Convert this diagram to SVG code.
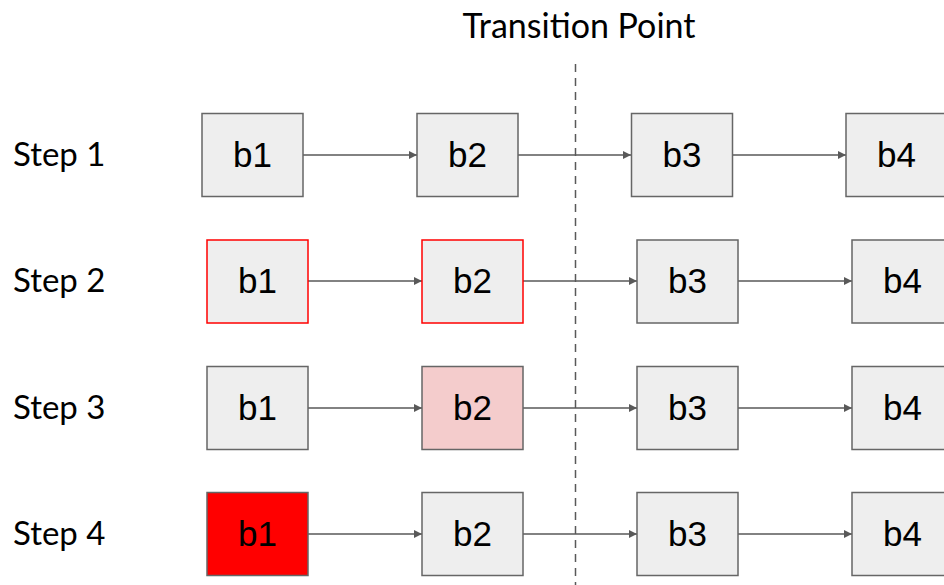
<svg xmlns="http://www.w3.org/2000/svg" width="944" height="585" viewBox="0 0 944 585">
  <defs>
    <style>
      .box { fill: #eeeeee; stroke: #666666; stroke-width: 1.5; }
      .hot { stroke: #ff0000; }
      .step { font-family: Lato, 'Open Sans', sans-serif; font-size: 33px; fill: #000000; }
      .title { font-family: Lato, 'Open Sans', sans-serif; font-size: 34px; fill: #000000; text-anchor: middle; }
      .edge { stroke: #595959; stroke-width: 1.5; fill: none; marker-end: url(#arrow); }
    </style>
    <marker id="arrow" viewBox="0 0 10 10" refX="10" refY="5" markerWidth="9" markerHeight="8" markerUnits="userSpaceOnUse" orient="auto">
      <path d="M0,0 L10,5 L0,10 Z" fill="#595959"/>
    </marker>
  </defs>
  <rect width="944" height="585" fill="#ffffff"/>

  <!-- title and transition marker -->
  <text x="579" y="38" class="title">Transition Point</text>
  <line x1="575.5" y1="64" x2="575.5" y2="585" stroke="#595959" stroke-width="1.5" stroke-dasharray="8,6"/>

  <!-- row labels -->
  <text x="13" y="166" class="step">Step 1</text>
  <text x="13" y="292" class="step">Step 2</text>
  <text x="13" y="419" class="step">Step 3</text>
  <text x="13" y="545" class="step">Step 4</text>

  <!-- connectors -->
  <g id="connectors">
    <line class="edge" x1="303" y1="155" x2="417" y2="155"/>
    <line class="edge" x1="518" y1="155" x2="631" y2="155"/>
    <line class="edge" x1="733" y1="155" x2="846" y2="155"/>

    <line class="edge" x1="308" y1="281" x2="422" y2="281"/>
    <line class="edge" x1="523" y1="281" x2="637" y2="281"/>
    <line class="edge" x1="738" y1="281" x2="852" y2="281"/>

    <line class="edge" x1="308" y1="408" x2="422" y2="408"/>
    <line class="edge" x1="523" y1="408" x2="637" y2="408"/>
    <line class="edge" x1="738" y1="408" x2="852" y2="408"/>

    <line class="edge" x1="308" y1="534" x2="422" y2="534"/>
    <line class="edge" x1="523" y1="534" x2="637" y2="534"/>
    <line class="edge" x1="738" y1="534" x2="852" y2="534"/>
  </g>

  <!-- block nodes -->
  <g font-family="Liberation Sans, Arial, sans-serif" font-size="35" fill="#000000" text-anchor="middle">
    <!-- Step 1 -->
    <g id="s1-b1"><rect class="box" x="202" y="113.5" width="101" height="83"/><text x="252.5" y="167">b1</text></g>
    <g id="s1-b2"><rect class="box" x="417" y="113.5" width="101" height="83"/><text x="467.5" y="167">b2</text></g>
    <g id="s1-b3"><rect class="box" x="631.5" y="113.5" width="101" height="83"/><text x="682" y="167">b3</text></g>
    <g id="s1-b4"><rect class="box" x="846" y="113.5" width="101" height="83"/><text x="896.5" y="167">b4</text></g>

    <!-- Step 2 -->
    <g id="s2-b1"><rect class="box hot" x="207" y="240" width="101" height="83"/><text x="257.5" y="293">b1</text></g>
    <g id="s2-b2"><rect class="box hot" x="422" y="240" width="101" height="83"/><text x="472.5" y="293">b2</text></g>
    <g id="s2-b3"><rect class="box" x="637" y="240" width="101" height="83"/><text x="687.5" y="293">b3</text></g>
    <g id="s2-b4"><rect class="box" x="852" y="240" width="101" height="83"/><text x="902.5" y="293">b4</text></g>

    <!-- Step 3 -->
    <g id="s3-b1"><rect class="box" x="207" y="366.5" width="101" height="83"/><text x="257.5" y="420">b1</text></g>
    <g id="s3-b2"><rect class="box" x="422" y="366.5" width="101" height="83" style="fill:#f4cccc"/><text x="472.5" y="420">b2</text></g>
    <g id="s3-b3"><rect class="box" x="637" y="366.5" width="101" height="83"/><text x="687.5" y="420">b3</text></g>
    <g id="s3-b4"><rect class="box" x="852" y="366.5" width="101" height="83"/><text x="902.5" y="420">b4</text></g>

    <!-- Step 4 -->
    <g id="s4-b1"><rect class="box" x="207" y="492.5" width="101" height="83" style="fill:#ff0000"/><text x="257.5" y="546">b1</text></g>
    <g id="s4-b2"><rect class="box" x="422" y="492.5" width="101" height="83"/><text x="472.5" y="546">b2</text></g>
    <g id="s4-b3"><rect class="box" x="637" y="492.5" width="101" height="83"/><text x="687.5" y="546">b3</text></g>
    <g id="s4-b4"><rect class="box" x="852" y="492.5" width="101" height="83"/><text x="902.5" y="546">b4</text></g>
  </g>
</svg>
